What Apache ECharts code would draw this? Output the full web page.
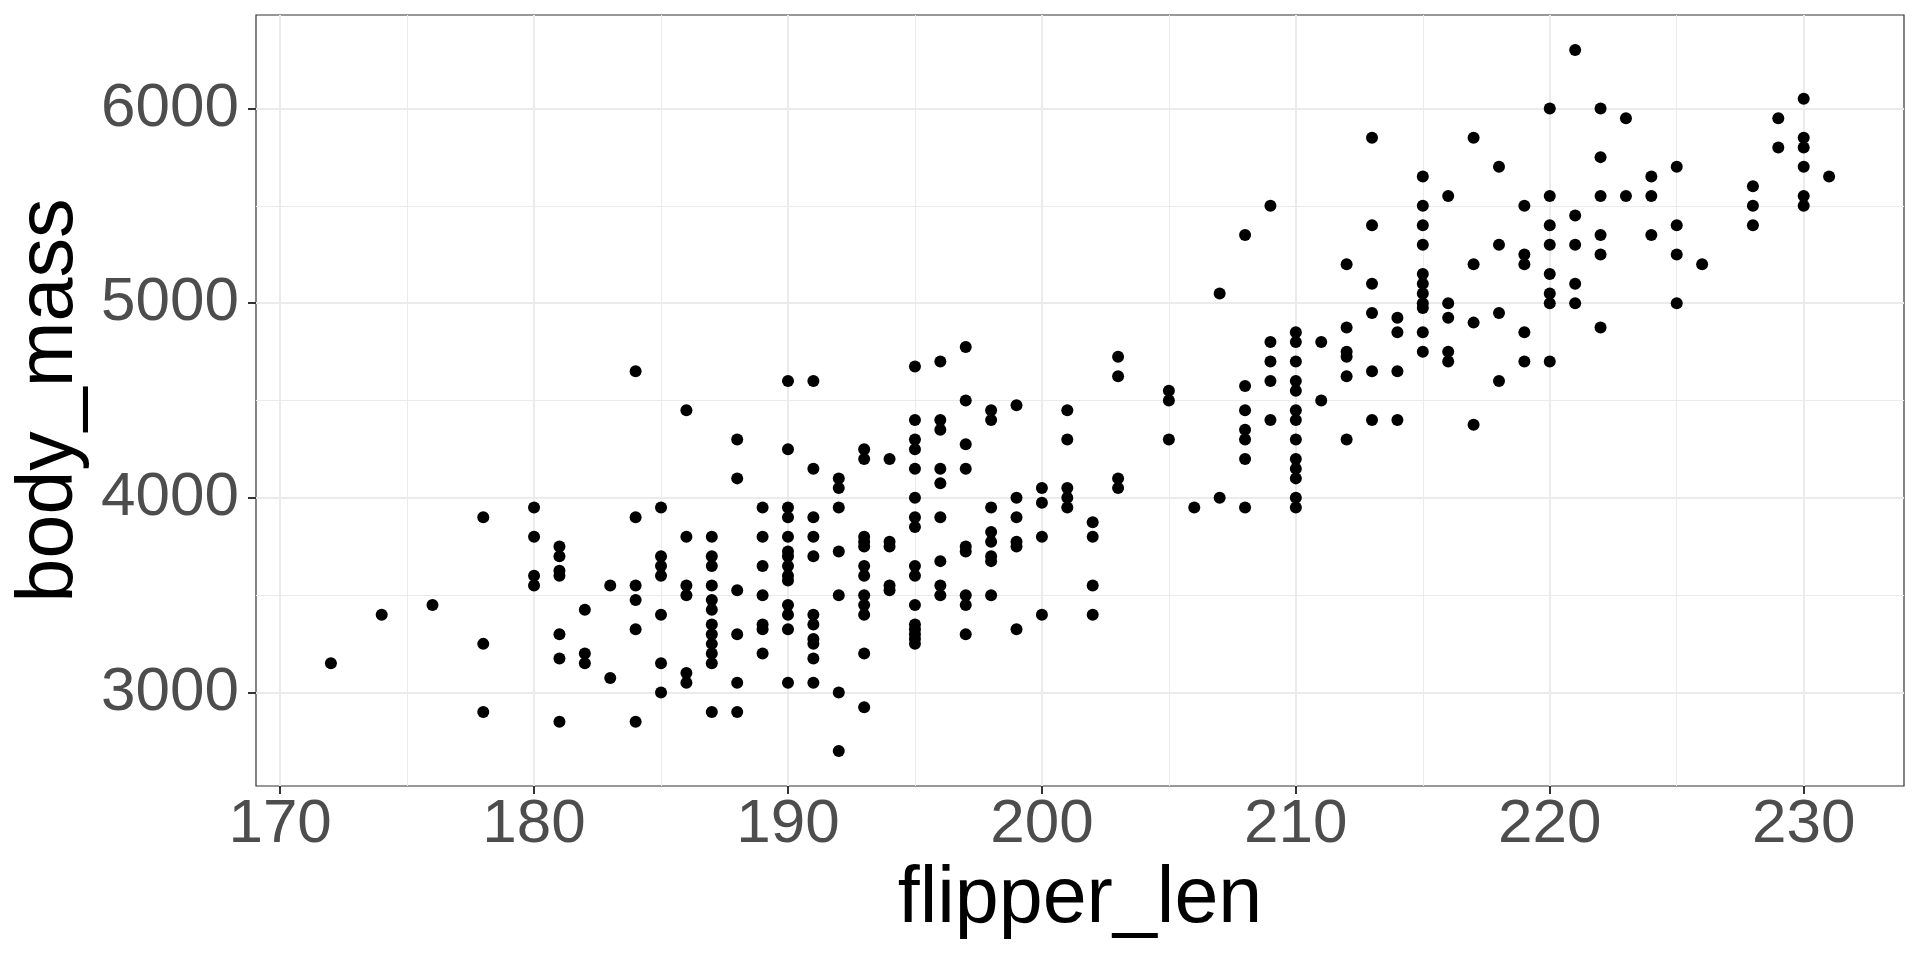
<!DOCTYPE html>
<html>
<head>
<meta charset="utf-8">
<title>flipper_len vs body_mass</title>
<script src="https://cdn.jsdelivr.net/npm/echarts@6.0.0/dist/echarts.min.js"></script>
<style>
  html, body { margin: 0; padding: 0; background: #fff; }
  #chart { width: 1920px; height: 960px; }
</style>
</head>
<body>
<div id="chart"></div>
<script>
// values, one line per flipper length
var flipperLen = [
  172,
  174,
  176,
  178, 178, 178,
  180, 180, 180, 180,
  181, 181, 181, 181, 181, 181, 181,
  182, 182, 182,
  183, 183,
  184, 184, 184, 184, 184, 184,
  185, 185, 185, 185, 185, 185, 185,
  186, 186, 186, 186, 186, 186,
  187, 187, 187, 187, 187, 187, 187, 187, 187, 187, 187, 187,
  188, 188, 188, 188, 188, 188,
  189, 189, 189, 189, 189, 189, 189,
  190, 190, 190, 190, 190, 190, 190, 190, 190, 190, 190, 190, 190, 190,
  191, 191, 191, 191, 191, 191, 191, 191, 191, 191, 191,
  192, 192, 192, 192, 192, 192, 192,
  193, 193, 193, 193, 193, 193, 193, 193, 193, 193, 193, 193,
  194, 194, 194, 194, 194,
  195, 195, 195, 195, 195, 195, 195, 195, 195, 195, 195, 195, 195, 195, 195, 195,
  196, 196, 196, 196, 196, 196, 196, 196, 196,
  197, 197, 197, 197, 197, 197, 197, 197, 197,
  198, 198, 198, 198, 198, 198, 198, 198,
  199, 199, 199, 199, 199, 199,
  200, 200, 200, 200,
  201, 201, 201, 201, 201,
  202, 202, 202, 202,
  203, 203, 203, 203,
  205, 205, 205,
  206,
  207, 207,
  208, 208, 208, 208, 208, 208, 208,
  209, 209, 209, 209, 209,
  210, 210, 210, 210, 210, 210, 210, 210, 210, 210, 210, 210, 210,
  211, 211,
  212, 212, 212, 212, 212, 212,
  213, 213, 213, 213, 213, 213,
  214, 214, 214, 214,
  215, 215, 215, 215, 215, 215, 215, 215, 215, 215, 215,
  216, 216, 216, 216, 216,
  217, 217, 217, 217,
  218, 218, 218, 218,
  219, 219, 219, 219, 219,
  220, 220, 220, 220, 220, 220, 220, 220,
  221, 221, 221, 221, 221,
  222, 222, 222, 222, 222, 222,
  223, 223,
  224, 224, 224,
  225, 225, 225, 225,
  226,
  228, 228, 228,
  229, 229,
  230, 230, 230, 230, 230, 230,
  231
];

var bodyMass = [
  3150,
  3400,
  3450,
  3900, 3250, 2900,
  3950, 3800, 3600, 3550,
  3750, 3700, 3625, 3600, 3300, 3175, 2850,
  3425, 3200, 3150,
  3550, 3075,
  4650, 3900, 3550, 3475, 3325, 2850,
  3950, 3700, 3650, 3600, 3400, 3150, 3000,
  4450, 3800, 3550, 3500, 3100, 3050,
  3800, 3700, 3650, 3550, 3475, 3425, 3350, 3300, 3250, 3200, 3150, 2900,
  4300, 4100, 3525, 3300, 3050, 2900,
  3950, 3800, 3650, 3500, 3350, 3325, 3200,
  4600, 4250, 3950, 3900, 3800, 3725, 3700, 3650, 3600, 3575, 3450, 3400, 3325, 3050,
  4600, 4150, 3900, 3800, 3700, 3400, 3350, 3275, 3250, 3175, 3050,
  4100, 4050, 3950, 3725, 3500, 3000, 2700,
  4250, 4200, 3800, 3775, 3750, 3650, 3600, 3500, 3450, 3400, 3200, 2925,
  4200, 3775, 3750, 3550, 3525,
  4675, 4400, 4300, 4250, 4150, 4000, 3900, 3850, 3650, 3600, 3450, 3350, 3325, 3300, 3275, 3250,
  4700, 4400, 4350, 4150, 4075, 3900, 3675, 3550, 3500,
  4775, 4500, 4275, 4150, 3750, 3725, 3500, 3450, 3300,
  4450, 4400, 3950, 3825, 3775, 3700, 3675, 3500,
  4475, 4000, 3900, 3775, 3750, 3325,
  4050, 3975, 3800, 3400,
  4450, 4300, 4050, 4000, 3950,
  3875, 3800, 3550, 3400,
  4725, 4625, 4100, 4050,
  4550, 4500, 4300,
  3950,
  5050, 4000,
  5350, 4575, 4450, 4350, 4300, 4200, 3950,
  5500, 4800, 4700, 4600, 4400,
  4850, 4800, 4700, 4600, 4550, 4450, 4400, 4300, 4200, 4150, 4100, 4000, 3950,
  4800, 4500,
  5200, 4875, 4750, 4725, 4625, 4300,
  5850, 5400, 5100, 4950, 4650, 4400,
  4925, 4850, 4650, 4400,
  5650, 5500, 5400, 5300, 5150, 5100, 5050, 5000, 4975, 4850, 4750,
  5550, 5000, 4925, 4750, 4700,
  5850, 5200, 4900, 4375,
  5700, 5300, 4950, 4600,
  5500, 5250, 5200, 4850, 4700,
  6000, 5550, 5400, 5300, 5150, 5050, 5000, 4700,
  6300, 5450, 5300, 5100, 5000,
  6000, 5750, 5550, 5350, 5250, 4875,
  5950, 5550,
  5650, 5550, 5350,
  5700, 5400, 5250, 5000,
  5200,
  5600, 5500, 5400,
  5950, 5800,
  6050, 5850, 5800, 5700, 5550, 5500,
  5650
];

// tick labels and grid positions
var xMajor = [170, 180, 190, 200, 210, 220, 230];
var xMinor = [175, 185, 195, 205, 215, 225];
var yMajor = [3000, 4000, 5000, 6000];
var yMinor = [3500, 4500, 5500];

var points = [];
for (var i = 0; i < flipperLen.length; i++) {
  points.push([flipperLen[i], bodyMass[i]]);
}

// ggplot pads the data range by 5% on each side
var xMin = 172 - 0.05 * (231 - 172), xMax = 231 + 0.05 * (231 - 172);
var yMin = 2700 - 0.05 * (6300 - 2700), yMax = 6300 + 0.05 * (6300 - 2700);

var font = 'Liberation Sans, Arial, Helvetica, sans-serif';
var gridColor = '#EBEBEB';
var plain = function (v) { return String(v); };

var chart = echarts.init(document.getElementById('chart'), null, { renderer: 'canvas' });

chart.setOption({
  animation: false,
  backgroundColor: '#ffffff',
  grid: {
    left: 256, right: 16, top: 15, bottom: 174,
    containLabel: false,
    outerBoundsMode: 'none',
    show: true,
    borderColor: '#333333',
    borderWidth: 1.2,
    backgroundColor: 'transparent'
  },
  xAxis: [
    {
      type: 'value',
      min: xMin, max: xMax,
      position: 'bottom',
      name: 'flipper_len',
      nameLocation: 'middle',
      nameGap: 74,
      nameTextStyle: { fontFamily: font, fontSize: 79, color: '#000000' },
      axisLine: { show: false },
      axisTick: {
        show: true, inside: false, length: 8,
        customValues: xMajor,
        lineStyle: { color: '#333333', width: 2 }
      },
      axisLabel: {
        customValues: xMajor,
        formatter: plain,
        margin: 8,
        fontFamily: font, fontSize: 62, color: '#4D4D4D'
      },
      splitLine: { show: true, lineStyle: { color: gridColor, width: 2 } },
      z: 1
    },
    {
      type: 'value',
      min: xMin, max: xMax,
      position: 'top',
      axisLine: { show: false },
      axisTick: { show: false, customValues: xMinor },
      axisLabel: { show: false, customValues: xMinor },
      splitLine: { show: true, lineStyle: { color: gridColor, width: 1 } },
      z: 0
    }
  ],
  yAxis: [
    {
      type: 'value',
      min: yMin, max: yMax,
      position: 'left',
      name: 'body_mass',
      nameLocation: 'middle',
      nameGap: 165,
      nameTextStyle: { fontFamily: font, fontSize: 79, color: '#000000' },
      axisLine: { show: false },
      axisTick: {
        show: true, inside: false, length: 8,
        customValues: yMajor,
        lineStyle: { color: '#333333', width: 2 }
      },
      axisLabel: {
        customValues: yMajor,
        formatter: plain,
        margin: 17,
        fontFamily: font, fontSize: 62, color: '#4D4D4D'
      },
      splitLine: { show: true, lineStyle: { color: gridColor, width: 2 } },
      z: 1
    },
    {
      type: 'value',
      min: yMin, max: yMax,
      position: 'right',
      axisLine: { show: false },
      axisTick: { show: false, customValues: yMinor },
      axisLabel: { show: false, customValues: yMinor },
      splitLine: { show: true, lineStyle: { color: gridColor, width: 1 } },
      z: 0
    }
  ],
  series: [
    {
      type: 'scatter',
      xAxisIndex: 0,
      yAxisIndex: 0,
      data: points,
      symbol: 'circle',
      symbolSize: 12,
      itemStyle: { color: '#000000', opacity: 1 },
      emphasis: { disabled: true },
      z: 5
    }
  ]
});
</script>
</body>
</html>
